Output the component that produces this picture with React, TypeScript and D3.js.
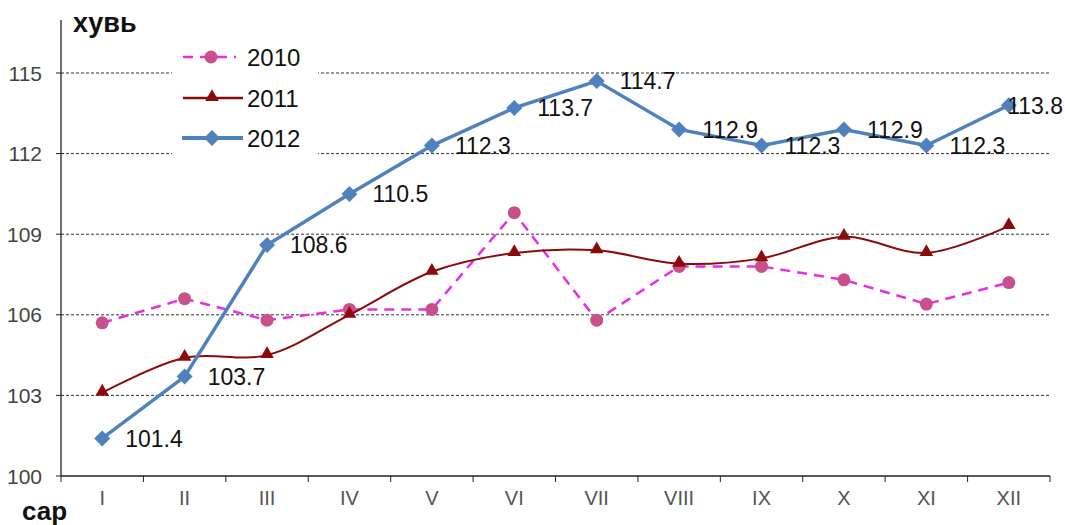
import React from "react";
import * as d3 from "d3";

const months = ["I", "II", "III", "IV", "V", "VI", "VII", "VIII", "IX", "X", "XI", "XII"];
const s2010 = [105.7, 106.6, 105.8, 106.2, 106.2, 109.8, 105.8, 107.8, 107.8, 107.3, 106.4, 107.2];
const s2011 = [103.1, 104.4, 104.5, 106.0, 107.6, 108.3, 108.4, 107.9, 108.1, 108.9, 108.3, 109.3];
const s2012 = [101.4, 103.7, 108.6, 110.5, 112.3, 113.7, 114.7, 112.9, 112.3, 112.9, 112.3, 113.8];
const yTicks = [100, 103, 106, 109, 112, 115];
const legendNames = ["2010", "2011", "2012"];

const W = 1065, H = 525;
const left = 61, right = 1050, top = 20, bottom = 476;

export default function App() {
  const x = d3.scaleBand<string>().domain(months).range([left, right]).padding(0);
  const y = d3.scaleLinear().domain([100, 115]).range([bottom, 73]);
  const cx = (m: string) => (x(m) as number) + x.bandwidth() / 2;

  const straight = d3.line<number>().x((_, i) => cx(months[i])).y(d => y(d));
  const smooth = d3.line<number>().x((_, i) => cx(months[i])).y(d => y(d)).curve(d3.curveCatmullRom.alpha(0.5));

  const c2010Line = "#e62ee6";
  const c2010Mark = "#c9508c";
  const c2011 = "#8b0a0a";
  const c2012 = "#4f81bd";
  const font = "Arial, 'Liberation Sans', sans-serif";

  const tri = d3.symbol().type(d3.symbolTriangle).size(80)() as string;
  const dia = (s: number) => `M0,${-s}L${s},0L0,${s}L${-s},0Z`;
  const labelFont = 23;
  const labelW = labelFont * 2.5;

  return (
    <svg width={W} height={H} style={{ position: "absolute", left: 0, top: 0, background: "#fff" }} fontFamily={font}>
      {/* gridlines */}
      {yTicks.filter(t => t > 100).map(t => (
        <line key={t} x1={left} x2={right} y1={y(t)} y2={y(t)} stroke="#333" strokeWidth={1} strokeDasharray="3,2" />
      ))}
      {/* legend background masking gridlines */}
      <rect x={172} y={38} width={146} height={124} fill="#fff" />
      {/* y axis */}
      <line x1={left} x2={left} y1={top} y2={bottom} stroke="#222" strokeWidth={1.3} />
      {yTicks.map(t => (
        <g key={t}>
          <line x1={left - 5} x2={left} y1={y(t)} y2={y(t)} stroke="#222" />
          <text x={42} y={y(t)} dy="0.36em" textAnchor="end" fontSize={21} fill="#444">{t}</text>
        </g>
      ))}
      {/* x axis */}
      <line x1={left} x2={right} y1={bottom} y2={bottom} stroke="#222" strokeWidth={1.3} />
      {months.map(m => (
        <g key={m}>
          <line x1={(x(m) as number) + x.bandwidth()} x2={(x(m) as number) + x.bandwidth()} y1={bottom} y2={bottom + 6} stroke="#222" />
          <text x={cx(m)} y={bottom + 29} textAnchor="middle" fontSize={20} fill="#555">{m}</text>
        </g>
      ))}
      <line x1={left} x2={left} y1={bottom} y2={bottom + 6} stroke="#222" />
      <text x={73} y={32} fontSize={27} fontWeight="bold" fill="#111">хувь</text>
      <text x={22} y={520} fontSize={26} fontWeight="bold" fill="#111">сар</text>

      {/* 2010 */}
      <path d={straight(s2010) as string} fill="none" stroke={c2010Line} strokeWidth={2.5} strokeDasharray="10,7" />
      {s2010.map((v, i) => (
        <circle key={i} cx={cx(months[i])} cy={y(v)} r={6.5} fill={c2010Mark} />
      ))}
      {/* 2011 */}
      <path d={smooth(s2011) as string} fill="none" stroke={c2011} strokeWidth={2} />
      {s2011.map((v, i) => (
        <path key={i} d={tri} transform={`translate(${cx(months[i])},${y(v) - 1})`} fill={c2011} />
      ))}
      {/* 2012 */}
      <path d={straight(s2012) as string} fill="none" stroke={c2012} strokeWidth={3.5} />
      {s2012.map((v, i) => (
        <path key={i} d={dia(8)} transform={`translate(${cx(months[i])},${y(v)})`} fill={c2012} />
      ))}
      {s2012.map((v, i) => {
        const px = cx(months[i]) + 23;
        const fits = px + labelW <= W - 2;
        return (
          <text key={i} x={fits ? px : W - 2} y={y(v)} dy="0.36em" fontSize={labelFont}
            textAnchor={fits ? "start" : "end"} fill="#111">{v.toFixed(1)}</text>
        );
      })}

      {/* legend */}
      {legendNames.map((n, i) => {
        const ly = [57, 98, 138][i];
        return (
          <g key={n}>
            {i === 0 && <>
              <line x1={182} x2={236} y1={ly} y2={ly} stroke={c2010Line} strokeWidth={2.5} strokeDasharray="10,7" strokeDashoffset={-1} />
              <circle cx={211} cy={ly} r={6.5} fill={c2010Mark} />
            </>}
            {i === 1 && <>
              <line x1={183} x2={243} y1={ly} y2={ly} stroke={c2011} strokeWidth={2.5} />
              <path d={tri} transform={`translate(${212},${ly - 1})`} fill={c2011} />
            </>}
            {i === 2 && <>
              <line x1={182} x2={243} y1={ly} y2={ly} stroke={c2012} strokeWidth={4} />
              <path d={dia(8)} transform={`translate(${212},${ly})`} fill={c2012} />
            </>}
            <text x={247} y={ly} dy="0.36em" fontSize={24} fill="#111">{n}</text>
          </g>
        );
      })}
    </svg>
  );
}
